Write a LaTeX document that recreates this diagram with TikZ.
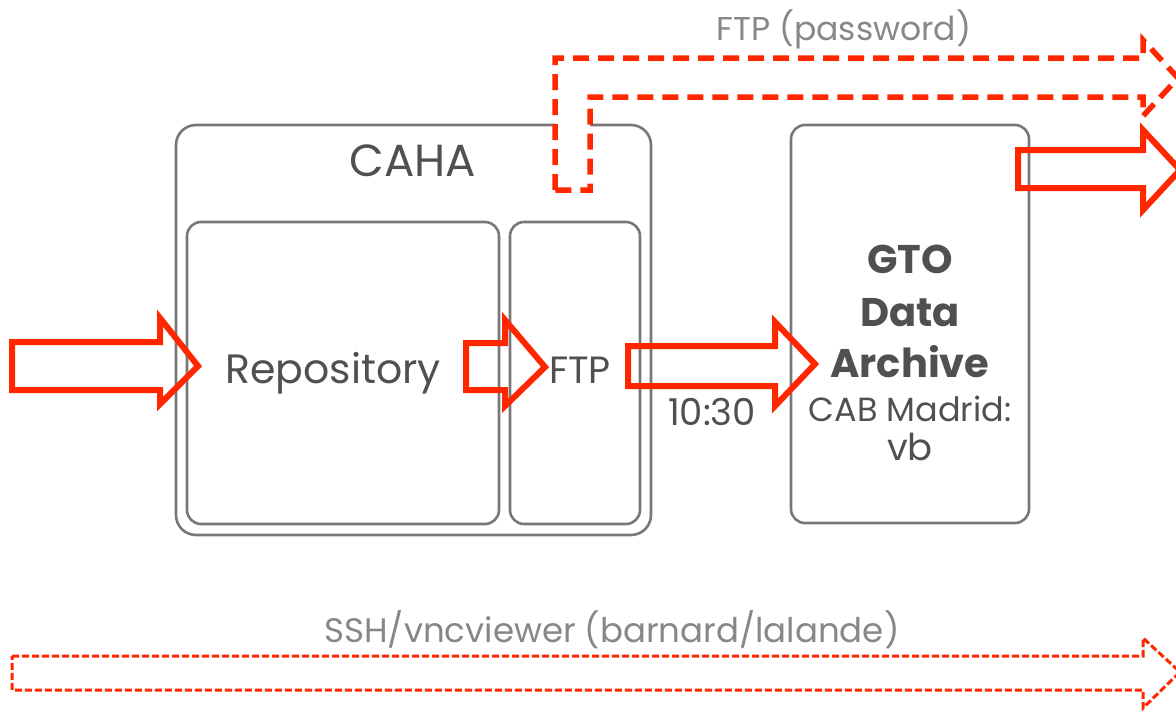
\documentclass[tikz,border=0pt]{standalone}
\usepackage{fontspec}
\setmainfont{Poppins}
\definecolor{arrowred}{RGB}{255,38,0}
\definecolor{boxgray}{RGB}{120,120,120}
\definecolor{textgray}{RGB}{80,80,80}
\definecolor{lightgray}{RGB}{135,135,135}
\tikzset{
  box/.style={draw=boxgray, line width=2.6pt, rounded corners=14pt, inner sep=0pt},
  blockarrow/.style={draw=arrowred, line width=6pt, line join=miter},
  dasharrow/.style={draw=arrowred, fill=white, line width=5.5pt, line join=miter, dash pattern=on 16pt off 9pt},
  thindash/.style={draw=arrowred, line width=3pt, line join=miter, dash pattern=on 7pt off 3pt},
  lbl/.style={text=textgray, anchor=base, inner sep=0pt},
  faint/.style={text=lightgray, anchor=base, inner sep=0pt},
}
\begin{document}
\begin{tikzpicture}[x=1pt,y=-1pt]
\useasboundingbox (0,0) rectangle (1176,710);
% boxes
\node[box, minimum width=475pt, minimum height=410pt, rounded corners=20pt] (caha) at (413.5,330) {};
\node[box, minimum width=312pt, minimum height=302pt] (repo) at (343,373) {};
\node[box, minimum width=130pt, minimum height=302pt] (ftpbox) at (575,373) {};
\node[box, minimum width=238pt, minimum height=398pt] (gto) at (910,324) {};
% dashed FTP arrow
\draw[dasharrow] (555,190) -- (555,58) -- (1143,58) -- (1143,40) -- (1178,78) -- (1143,116) -- (1143,97) -- (590,97) -- (590,190) -- cycle;
% solid arrows
\draw[blockarrow] (12,342) -- (160,342) -- (160,318) -- (198,366) -- (160,404) -- (160,390) -- (12,390) -- cycle;
\draw[blockarrow] (466,343) -- (505,343) -- (505,320) -- (545,367) -- (505,406) -- (505,390) -- (466,390) -- cycle;
\draw[blockarrow] (628,346) -- (775,346) -- (775,322) -- (815,364) -- (775,406) -- (775,386) -- (628,386) -- cycle;
\draw[blockarrow] (1018,150) -- (1143,150) -- (1143,130) -- (1180,170) -- (1143,210) -- (1143,188) -- (1018,188) -- cycle;
% SSH arrow
\draw[thindash] (12,656) -- (1143,656) -- (1143,638) -- (1180,672) -- (1143,708) -- (1143,690) -- (12,690) -- cycle;
% labels
\node[lbl, font=\fontsize{45}{48}\selectfont] (cahalbl) at (413,176) {CAHA};
\node[lbl, font=\fontsize{41}{44}\selectfont] (repolbl) at (333,383) {Repository};
\node[lbl, font=\fontsize{38}{40}\selectfont] (ftplbl) at (580,383) {FTP};
\node[lbl, font=\fontsize{40}{44}\selectfont\bfseries] (gtol1) at (910,273) {GTO};
\node[lbl, font=\fontsize{40}{44}\selectfont\bfseries] (gtol2) at (910,326) {Data};
\node[lbl, font=\fontsize{40}{44}\selectfont\bfseries] (gtol3) at (910,377) {Archive};
\node[lbl, font=\fontsize{33.5}{36}\selectfont] (cab) at (910,421) {CAB Madrid:};
\node[lbl, font=\fontsize{37}{40}\selectfont] (vb) at (910,460) {vb};
\node[lbl, font=\fontsize{37}{40}\selectfont] (time) at (712,425) {10:30};
\node[faint, font=\fontsize{33}{36}\selectfont] (ftppw) at (844,40) {FTP (password)};
\node[faint, font=\fontsize{34}{38}\selectfont] (ssh) at (612,642) {SSH/vncviewer (barnard/lalande)};
\end{tikzpicture}
\end{document}
